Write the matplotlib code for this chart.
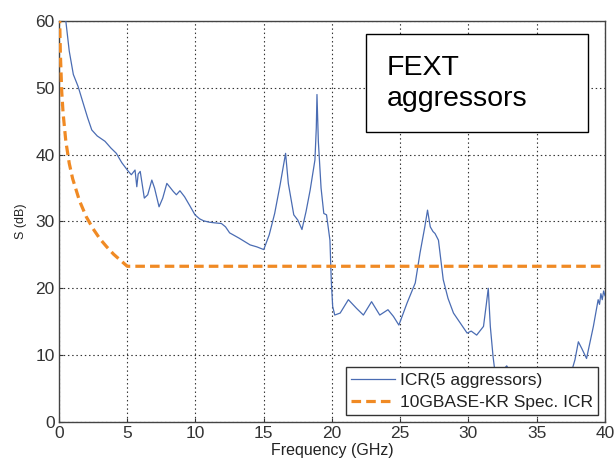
import matplotlib
matplotlib.use("Agg")
import matplotlib.pyplot as plt
from matplotlib.patches import Rectangle

plt.rcParams['font.family'] = ['Liberation Sans', 'DejaVu Sans']

# ICR (5 aggressors) measured curve
icr_freq = [0.35, 0.5, 0.75, 1.05, 1.4, 1.8, 2.1, 2.4, 2.8, 3.37, 3.8, 4.2, 4.6, 5.08, 5.3,
            5.57, 5.7, 5.8, 5.95, 6.1, 6.25, 6.5, 6.8, 7.0, 7.33, 7.6, 7.9, 8.1, 8.37, 8.6,
            8.86, 9.2, 9.6, 9.96, 10.3, 10.6, 11.0, 11.4, 11.9, 12.2, 12.5, 13.2, 14.0, 14.5,
            15.0, 15.4, 15.8, 16.2, 16.6, 16.8, 17.2, 17.5, 17.8, 18.1, 18.4, 18.75, 18.85,
            18.9, 19.0, 19.2, 19.4, 19.6, 19.85, 19.95, 20.05, 20.2, 20.6, 21.2, 21.8, 22.3,
            22.9, 23.5, 24.1, 24.5, 24.9, 25.5, 26.1, 26.45, 26.8, 27.0, 27.2, 27.4, 27.55,
            27.8, 28.15, 28.5, 28.9, 29.4, 29.9, 30.2, 30.6, 31.1, 31.3, 31.45, 31.6, 31.8,
            32.0, 32.8, 33.5, 34.5, 35.5, 36.5, 37.4, 37.8, 38.05, 38.3, 38.65, 39.15, 39.5,
            39.6, 39.7, 39.8, 39.9, 40.0]
icr_db = [64, 60, 55.5, 52, 50.2, 47.5, 45.5, 43.7, 42.8, 42, 41, 40.2, 38.8, 37.5, 37.0,
          37.7, 35.2, 37.1, 37.5, 35.5, 33.5, 34.0, 36.2, 35.0, 32.2, 33.5, 35.7, 35.2, 34.5, 34.0,
          34.6, 33.7, 32.3, 31.0, 30.4, 30.1, 29.9, 29.8, 29.7, 29.2, 28.3, 27.5, 26.5, 26.2,
          25.8, 28.0, 31.2, 35.5, 40.2, 35.7, 31.0, 30.2, 28.8, 31.5, 34.7, 39.2, 44,
          49, 42, 35, 31.2, 31.0, 27.2, 21, 17.3, 16.0, 16.3, 18.3, 17.0, 16.0,
          18.0, 16.0, 16.8, 15.8, 14.5, 17.8, 20.8, 25.3, 29.2, 31.7, 29.2, 28.5, 28.2,
          27.2, 21.3, 18.5, 16.3, 14.8, 13.3, 13.6, 13.0, 14.3, 17.5, 20.0, 14.3, 9.8,
          6.5, 8.4, 6.0, 5.0, 5.5, 5.0, 6.5, 9.3, 12.0, 11.0, 9.5, 14.3, 18.3,
          17.6, 19.2, 18.3, 19.6, 18.9]

# 10GBASE-KR spec ICR
spec_freq = [0.03, 0.05, 0.1, 0.2, 0.3, 0.5, 0.75, 1.0, 1.5, 2.0, 2.5, 3.0, 3.5, 4.0, 4.5, 5.0, 40.0]
spec_db = [64.2, 60.1, 55.1, 49.4, 46.2, 42.0, 38.7, 36.4, 33.1, 30.7, 28.9, 27.4, 26.2, 25.1, 24.2, 23.3, 23.3]

x_ticks = [0, 5, 10, 15, 20, 25, 30, 35, 40]
y_ticks = [0, 10, 20, 30, 40, 50, 60]
legend_labels = ['ICR(5 aggressors)', '10GBASE-KR Spec. ICR']
annotation = 'FEXT\naggressors'

fig = plt.figure(figsize=(6.14, 4.67), dpi=100)
ax = fig.add_axes([0.0961, 0.0964, 0.8892, 0.8586])

ax.plot(icr_freq, icr_db, color='#4a6cb3', lw=0.9, label=legend_labels[0], zorder=3)
ax.plot(spec_freq, spec_db, color='#f08a24', lw=2.3, ls=(0, (3.0, 1.6)),
        label=legend_labels[1], zorder=3)

ax.set_xlim(0, 40)
ax.set_ylim(0, 60)
ax.set_xticks(x_ticks)
ax.set_yticks(y_ticks)
ax.tick_params(direction='in', length=3, labelsize=12.5, colors='#333333', pad=3)
ax.grid(True, color='#333333', ls=(0, (1.3, 2.5)), lw=0.8)
for s in ax.spines.values():
    s.set_color('#444444')
    s.set_linewidth(1.0)

ax.set_xlabel('Frequency (GHz)', fontsize=11.5, color='#222222', labelpad=1)
ax.set_ylabel('S (dB)', fontsize=9, color='#222222', labelpad=6)

leg = ax.legend(loc='lower right', fontsize=12.5, fancybox=False, framealpha=1,
                edgecolor='#333333', handlelength=2.5, handletextpad=0.3,
                borderpad=0.3, labelspacing=0.4, borderaxespad=0.4)
leg.get_frame().set_linewidth(1.0)
for t in leg.get_texts():
    t.set_color('#222222')

ax.add_patch(Rectangle((0.5623, 0.7225), 0.4065, 0.245, transform=ax.transAxes,
                       facecolor='white', edgecolor='black', lw=1.0, zorder=5))
ax.text(0.6, 0.845, annotation, transform=ax.transAxes, fontsize=20.5,
        va='center', ha='left', linespacing=1.25, zorder=6)

fig.savefig('out.png', dpi=100, facecolor='white')
